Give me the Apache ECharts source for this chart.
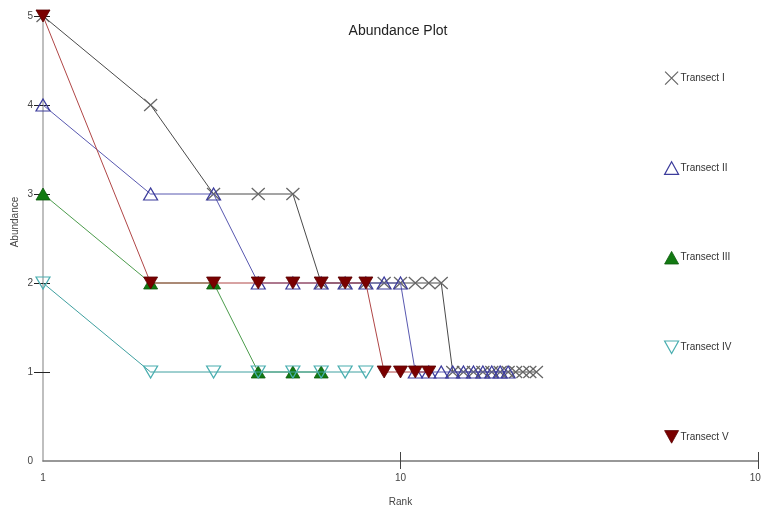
<!DOCTYPE html>
<html>
<head>
<meta charset="utf-8">
<script src="https://cdn.jsdelivr.net/npm/echarts@6/dist/echarts.min.js"></script>
<style>html,body{margin:0;padding:0;background:#fff;}#c{width:761px;height:506px;}</style>
</head>
<body>
<div id="c"></div>
<script>
// Abundance values by rank (rank = position + 1)
const seriesNames = ['Transect I', 'Transect II', 'Transect III', 'Transect IV', 'Transect V'];
const transectI   = [5,4,3,3,3,2,2,2,2,2,2,2,2,1,1,1,1,1,1,1,1,1,1,1];
const transectII  = [4,3,3,2,2,2,2,2,2,2,1,1,1,1,1,1,1,1,1,1];
const transectIII = [3,2,2,1,1,1];
const transectIV  = [2,1,1,1,1,1,1,1];
const transectV   = [5,2,2,2,2,2,2,2,1,1,1,1];
const yTicks = [0,1,2,3,4,5];
const xTicks = [1,10,100];

const allValues = [transectI, transectII, transectIII, transectIV, transectV];
const toPairs = arr => arr.map((v, i) => [i + 1, v]);

const X_PATH = 'path://M0,0L10,10M10,0L0,10';
const DOWN_PATH = 'path://M0,0L10,0L5,9Z';
const UP_PATH = 'path://M5,0L10,9L0,9Z';

const styles = [
  {symbol: X_PATH, size: [13, 12], line: '#4a4a4a', fill: 'rgba(0,0,0,0)', border: '#666666', bw: 1.2},
  {symbol: UP_PATH, size: [14, 12], line: '#5858b0', fill: 'rgba(0,0,0,0)', border: '#3c3c9c', bw: 1.2},
  {symbol: UP_PATH, size: [14, 12], line: '#4c9c4c', fill: '#127a12', border: '#0d5a0d', bw: 0.8},
  {symbol: DOWN_PATH, size: [14, 12], line: '#3fa0a0', fill: 'rgba(0,0,0,0)', border: '#4aaeb0', bw: 1.2},
  {symbol: DOWN_PATH, size: [14, 12], line: '#b04646', fill: '#7a0000', border: '#5a0000', bw: 0.8}
];

const series = allValues.map((vals, k) => ({
  name: seriesNames[k],
  type: 'line',
  data: toPairs(vals),
  symbol: styles[k].symbol,
  symbolSize: styles[k].size,
  showAllSymbol: true,
  lineStyle: {color: styles[k].line, width: 1},
  itemStyle: {color: styles[k].fill, borderColor: styles[k].border, borderWidth: styles[k].bw},
  z: 2 + k,
  animation: false
}));

const legendData = seriesNames.map((n, k) => ({
  name: n,
  icon: styles[k].symbol,
  itemStyle: {color: styles[k].fill, borderColor: styles[k].border, borderWidth: styles[k].bw}
}));

const yTickMarks = yTicks.slice(1);
const xTickMarks = xTicks.slice(1);

const chart = echarts.init(document.getElementById('c'), null, {renderer: 'canvas'});
chart.setOption({
  backgroundColor: '#ffffff',
  animation: false,
  textStyle: {fontFamily: 'Liberation Sans, Arial, sans-serif'},
  grid: {left: 43, right: 3, top: 16, bottom: 45, containLabel: false, outerBoundsMode: 'none'},
  legend: {
    orient: 'vertical',
    left: 664,
    top: 71,
    padding: 0,
    itemWidth: 14,
    itemHeight: 13,
    itemGap: 76,
    selectedMode: false,
    data: legendData,
    textStyle: {fontSize: 10, color: '#333', fontFamily: 'Liberation Sans Narrow, Liberation Sans, Arial', padding: [0,0,0,-3]}
  },
  xAxis: [{
    type: 'log', logBase: 10, min: xTicks[0], max: xTicks[xTicks.length - 1],
    name: 'Rank', nameLocation: 'middle', nameGap: 36,
    nameTextStyle: {fontSize: 10, color: '#444'},
    axisLine: {lineStyle: {color: '#777', width: 1.5}},
    axisTick: {show: true, length: 8, customValues: xTickMarks, lineStyle: {color: '#444'}},
    axisLabel: {fontSize: 10, color: '#444', margin: 12, hideOverlap: false},
    splitLine: {show: false}, minorTick: {show: false}
  }, {
    type: 'log', logBase: 10, min: xTicks[0], max: xTicks[xTicks.length - 1], position: 'bottom',
    axisLine: {show: false},
    axisTick: {show: true, inside: true, length: 9, customValues: xTickMarks, lineStyle: {color: '#444'}},
    axisLabel: {show: false}, splitLine: {show: false}
  }],
  yAxis: [{
    type: 'value', min: yTicks[0], max: yTicks[yTicks.length - 1], interval: 1,
    axisLine: {show: true, lineStyle: {color: '#aaaaaa', width: 1.5}},
    axisTick: {show: true, length: 9, customValues: yTickMarks, lineStyle: {color: '#222'}},
    axisLabel: {fontSize: 10, color: '#444', margin: 10},
    splitLine: {show: false}
  }, {
    type: 'value', min: yTicks[0], max: yTicks[yTicks.length - 1], interval: 1, position: 'left',
    axisLine: {show: false},
    axisTick: {show: true, inside: true, length: 7, customValues: yTickMarks, lineStyle: {color: '#222'}},
    axisLabel: {show: false}, splitLine: {show: false}
  }],
  graphic: [
    {type: 'text', x: 398, y: 31, style: {text: 'Abundance Plot', font: '14px "Liberation Sans", Arial', fill: '#222', textAlign: 'center', textVerticalAlign: 'middle'}},
    {type: 'text', rotation: Math.PI / 2, x: 15, y: 222, style: {text: 'Abundance', font: '10px "Liberation Sans", Arial', fill: '#444', textAlign: 'center', textVerticalAlign: 'middle'}}
  ],
  series: series
});
</script>
</body>
</html>
